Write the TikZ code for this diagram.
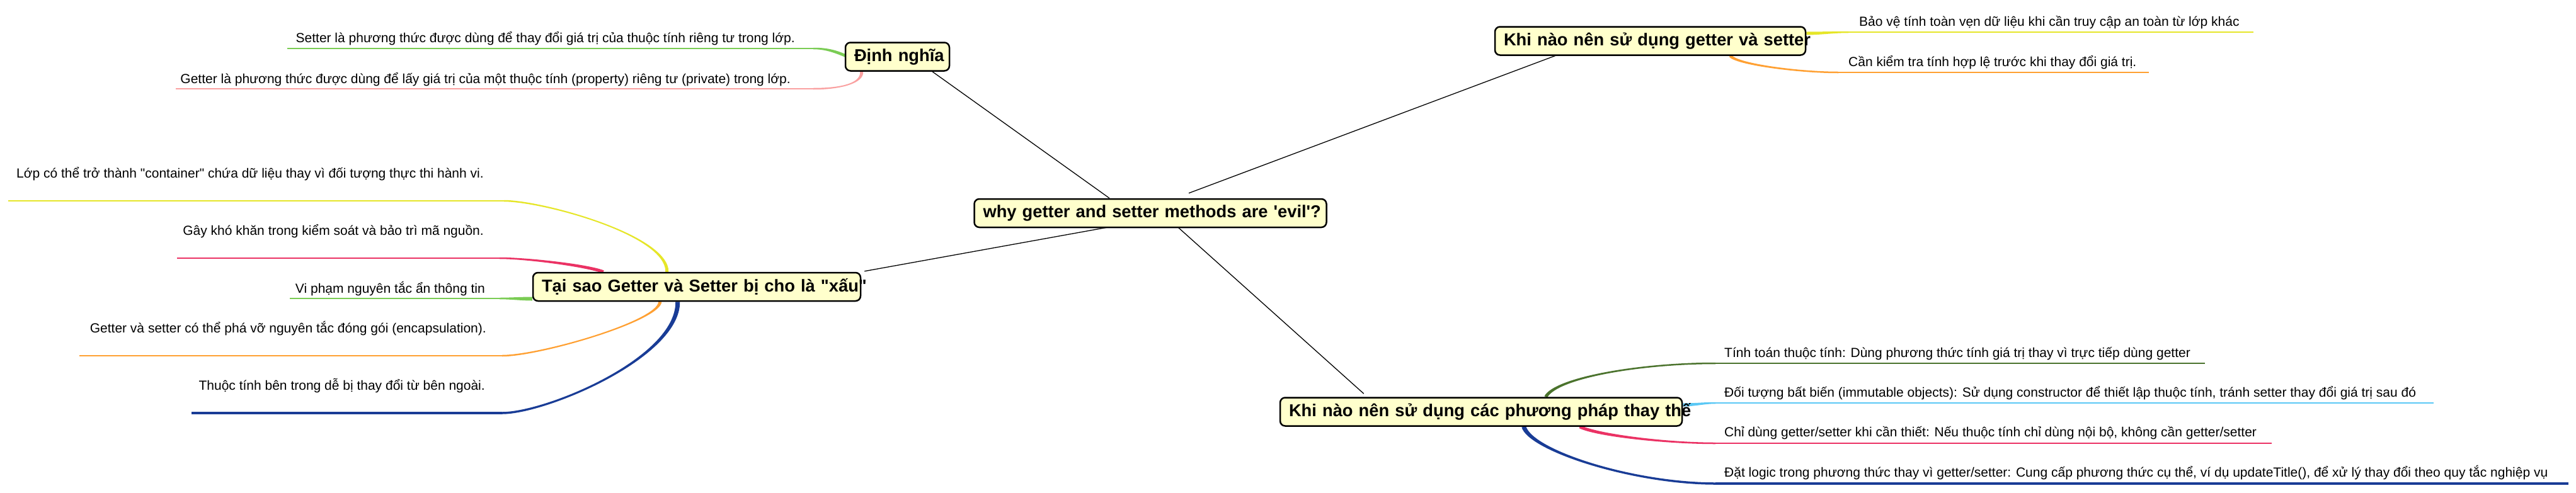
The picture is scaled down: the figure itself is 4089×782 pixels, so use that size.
\documentclass[tikz,border=0pt]{standalone}
\usepackage{fontspec}
\newfontfamily\lib{Liberation Sans}
\usetikzlibrary{calc}
\pgfdeclarelayer{back}
\pgfdeclarelayer{bg}
\pgfsetlayers{back,bg,main}
\definecolor{nodefill}{RGB}{255,255,204}
\definecolor{cgreen}{RGB}{122,204,84}
\definecolor{cpink}{RGB}{250,160,160}
\definecolor{cyellow}{RGB}{230,230,40}
\definecolor{corange}{RGB}{255,160,50}
\definecolor{ccrimson}{RGB}{235,50,100}
\definecolor{cdblue}{RGB}{25,60,150}
\definecolor{colive}{RGB}{75,115,45}
\definecolor{clblue}{RGB}{90,200,245}
\tikzset{
  topic/.style={draw=black, line width=2.5pt, fill=nodefill, rounded corners=8pt,
    inner xsep=14pt, inner ysep=0pt, minimum height=45pt, align=left,
    font=\lib\fontsize{27.3}{33}\selectfont\bfseries},
  leafL/.style={anchor=base east, inner sep=0pt, font=\lib\fontsize{21}{25}\selectfont},
  leafR/.style={anchor=base west, inner sep=0pt, font=\lib\fontsize{21}{25}\selectfont},
  link/.style={draw=black, line width=1.3pt},
}
% #1 colour, #2 start at topic, #3 half-width offset at start, #4 control near start,
% #5 control near joint, #6 joint, #7 half-width at joint, #8 end of underline
\newcommand\taper[8]{%
  \fill[#1] ($(#2)+#3$) .. controls ($#4+#3$) and ($#5+(0,-#7)$) .. ($(#6)+(0,-#7)$)
    -- ($(#6)+(0,#7)$) .. controls ($#5+(0,#7)$) and ($#4-#3$) .. ($(#2)-#3$) -- cycle;
  \draw[#1, line width=2*#7pt] (#6) -- (#8);}
\begin{document}
\begin{tikzpicture}[x=1pt, y=-1pt]
\begin{pgfonlayer}{back}
\fill[white] (0,0) rectangle (4089,782);
\end{pgfonlayer}
\useasboundingbox (0,0) rectangle (4089,782);
% topics
\node[topic, text width=531pt] (root) at (1826,338.5) {\mbox{why getter and setter methods are 'evil'?}};
\node[topic, text width=137pt] (def) at (1424.5,90) {\mbox{Định nghĩa}};
\node[topic, text width=465pt] (get) at (2619.5,65) {\mbox{Khi nào nên sử dụng getter và setter}};
\node[topic, text width=492pt] (why) at (1106,455.5) {\mbox{Tại sao Getter và Setter bị cho là "xấu"}};
\node[topic, text width=610pt] (alt) at (2351,654) {\mbox{Khi nào nên sử dụng các phương pháp thay thế}};
% leaves
\node[leafL] (d1t) at (1262,67) {Setter là phương thức được dùng để thay đổi giá trị của thuộc tính riêng tư trong lớp.};
\node[leafL] (d2t) at (1255,132) {Getter là phương thức được dùng để lấy giá trị của một thuộc tính (property) riêng tư (private) trong lớp.};
\node[leafR] (g1t) at (2951,41) {Bảo vệ tính toàn vẹn dữ liệu khi cần truy cập an toàn từ lớp khác};
\node[leafR] (g2t) at (2934,105) {Cần kiểm tra tính hợp lệ trước khi thay đổi giá trị.};
\node[leafL] (t1t) at (768,282) {Lớp có thể trở thành "container" chứa dữ liệu thay vì đối tượng thực thi hành vi.};
\node[leafL] (t2t) at (768,373) {Gây khó khăn trong kiểm soát và bảo trì mã nguồn.};
\node[leafL] (t3t) at (770,465) {Vi phạm nguyên tắc ẩn thông tin};
\node[leafL] (t4t) at (772,528) {Getter và setter có thể phá vỡ nguyên tắc đóng gói (encapsulation).};
\node[leafL] (t5t) at (770,619) {Thuộc tính bên trong dễ bị thay đổi từ bên ngoài.};
\node[leafR] (a1t) at (2737,567) {Tính toán thuộc tính: Dùng phương thức tính giá trị thay vì trực tiếp dùng getter};
\node[leafR] (a2t) at (2737,630) {Đối tượng bất biến (immutable objects): Sử dụng constructor để thiết lập thuộc tính, tránh setter thay đổi giá trị sau đó};
\node[leafR] (a3t) at (2737,693) {Chỉ dùng getter/setter khi cần thiết: Nếu thuộc tính chỉ dùng nội bộ, không cần getter/setter};
\node[leafR] (a4t) at (2737,757) {Đặt logic trong phương thức thay vì getter/setter: Cung cấp phương thức cụ thể, ví dụ updateTitle(), để xử lý thay đổi theo quy tắc nghiệp vụ};
% anchor points
\coordinate (d1p) at ($(def.west)+(0,-2)$);
\coordinate (d1q) at (1291,77);  \coordinate (d1e) at (456,77);
\coordinate (d2p) at ($(def.south west)+(27,0)$);
\coordinate (d2q) at (1291,141); \coordinate (d2e) at (279,141);
\coordinate (g1p) at ($(get.east)+(0,-12)$);
\coordinate (g1q) at (2934,51);  \coordinate (g1e) at (3577,51);
\coordinate (g2p) at ($(get.south west)+(375,0)$);
\coordinate (g2q) at (2918,115); \coordinate (g2e) at (3411,115);
\coordinate (t1p) at ($(why.north west)+(214,0)$);
\coordinate (t1q) at (800,319);  \coordinate (t1e) at (13,319);
\coordinate (t2p) at ($(why.north west)+(113,0)$);
\coordinate (t2q) at (793,410);  \coordinate (t2e) at (281,410);
\coordinate (t3p) at ($(why.west)+(0,19)$);
\coordinate (t3q) at (793,474);  \coordinate (t3e) at (460,474);
\coordinate (t4p) at ($(why.south west)+(203,0)$);
\coordinate (t4q) at (797,565);  \coordinate (t4e) at (126,565);
\coordinate (t5p) at ($(why.south west)+(231,0)$);
\coordinate (t5q) at (797,656);  \coordinate (t5e) at (304,656);
\coordinate (a1p) at ($(alt.north west)+(423,0)$);
\coordinate (a1q) at (2723,577); \coordinate (a1e) at (3500,577);
\coordinate (a2p) at ($(alt.east)+(0,-11)$);
\coordinate (a2q) at (2723,640); \coordinate (a2e) at (3863,640);
\coordinate (a3p) at ($(alt.south west)+(477,0)$);
\coordinate (a3q) at (2723,704); \coordinate (a3e) at (3606,704);
\coordinate (a4p) at ($(alt.south west)+(388,0)$);
\coordinate (a4q) at (2723,768); \coordinate (a4e) at (4077,768);
\begin{pgfonlayer}{bg}
% main links
\draw[link] ($(root.north)+(-65,0)$) -- ($(def.south)+(55.5,0)$);
\draw[link] ($(root.north)+(61,-8)$) -- ($(get.south west)+(107,-4)$);
\draw[link] ($(root.south)+(-58,-3)$) -- ($(why.north east)+(5,-1)$);
\draw[link] ($(root.south)+(42,-3)$) -- ($(alt.north west)+(134,-5)$);
% leaf edges
\taper{cgreen}{d1p}{(0,-2.5)}{(1322,80)}{(1308,77)}{d1q}{1.25}{d1e}
\taper{cpink}{d2p}{(-2.5,0)}{(1369,132)}{(1336,141)}{d2q}{1.25}{d2e}
\taper{cyellow}{g1p}{(0,-2.5)}{(2890,53)}{(2910,51)}{g1q}{1.25}{g1e}
\taper{corange}{g2p}{(2.2,-1.2)}{(2756,102)}{(2855,115)}{g2q}{1.25}{g2e}
\taper{cyellow}{t1p}{(2.5,0)}{(1060,373)}{(860,319)}{t1q}{1.25}{t1e}
\taper{ccrimson}{t2p}{(0.9,-2.3)}{(929,421)}{(833,410)}{t2q}{1.25}{t2e}
\taper{cgreen}{t3p}{(0,-3)}{(828,474.5)}{(810,474)}{t3q}{1.25}{t3e}
\taper{corange}{t4p}{(-2.5,-0.2)}{(1046,510)}{(857,565)}{t4q}{1.25}{t4e}
\taper{cdblue}{t5p}{(-3.5,0)}{(1077,568)}{(867,656)}{t5q}{1.75}{t5e}
\taper{colive}{a1p}{(-2.3,-1.1)}{(2470,600)}{(2603,577)}{a1q}{1.25}{a1e}
\taper{clblue}{a2p}{(0,-2.5)}{(2690,643)}{(2705,640)}{a2q}{1.25}{a2e}
\taper{ccrimson}{a3p}{(1.3,-2.2)}{(2534,691)}{(2643,704)}{a3q}{1.25}{a3e}
\taper{cdblue}{a4p}{(3.4,-0.85)}{(2430,716)}{(2593,768)}{a4q}{1.75}{a4e}
\end{pgfonlayer}
\end{tikzpicture}
\end{document}
